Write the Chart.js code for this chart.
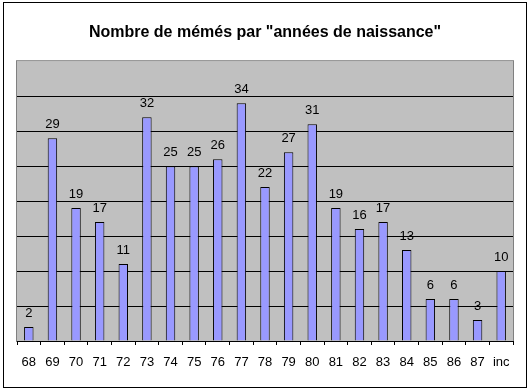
<!DOCTYPE html>
<html>
<head>
<meta charset="utf-8">
<script src="https://cdn.jsdelivr.net/npm/chart.js@4"></script>
<style>
  html, body { margin: 0; padding: 0; background: #fff; }
  #wrap { width: 530px; height: 390px; }
</style>
</head>
<body>
<div id="wrap"><canvas id="myChart"></canvas></div>
<script>
var annees = ["68", "69", "70", "71", "72", "73", "74", "75", "76", "77", "78", "79", "80", "81", "82", "83", "84", "85", "86", "87", "inc"];
var memes = [2, 29, 19, 17, 11, 32, 25, 25, 26, 34, 22, 27, 31, 19, 16, 17, 13, 6, 6, 3, 10];
var yMax = 40;
var yStep = 5;

var police = "'Liberation Sans', Arial, sans-serif";

// fond gris + cadre de la zone de tracé, cadre du graphique
var cadres = {
  id: "cadres",
  beforeDraw: function(chart) {
    var ctx = chart.ctx, a = chart.chartArea;
    ctx.save();
    ctx.fillStyle = "#fff";
    ctx.fillRect(0, 0, chart.width, chart.height);
    ctx.fillStyle = "#c0c0c0";
    ctx.fillRect(a.left, a.top, a.right - a.left, a.bottom - a.top);
    ctx.strokeStyle = "#808080";
    ctx.lineWidth = 1;
    ctx.strokeRect(a.left - 0.5, a.top - 0.5, a.right - a.left + 1, a.bottom - a.top + 1);
    ctx.restore();
  },
  afterDraw: function(chart) {
    var ctx = chart.ctx;
    ctx.save();
    ctx.strokeStyle = "#000";
    ctx.lineWidth = 1;
    ctx.strokeRect(3.5, 2.5, 523, 385);
    ctx.restore();
  }
};

// valeurs au-dessus des barres
var valeurs = {
  id: "valeurs",
  afterDatasetsDraw: function(chart) {
    var ctx = chart.ctx;
    var meta = chart.getDatasetMeta(0);
    ctx.save();
    ctx.font = "13px " + police;
    ctx.fillStyle = "#000";
    ctx.textAlign = "center";
    ctx.textBaseline = "alphabetic";
    meta.data.forEach(function(bar, i) {
      ctx.fillText(memes[i], bar.x, bar.y - 10);
    });
    ctx.restore();
  }
};

new Chart("myChart", {
  type: "bar",
  data: {
    labels: annees,
    datasets: [{
      data: memes,
      backgroundColor: "#9999ff",
      borderColor: "#000",
      borderWidth: 1,
      barPercentage: 0.4,
      categoryPercentage: 1
    }]
  },
  options: {
    responsive: true,
    maintainAspectRatio: false,
    animation: false,
    layout: { padding: { left: 17, right: 17, top: 0, bottom: 0 } },
    plugins: {
      legend: { display: false },
      tooltip: { enabled: false },
      title: {
        display: true,
        text: 'Nombre de mémés par "années de naissance"',
        color: "#000",
        font: { family: police, size: 16, weight: "bold" },
        padding: { top: 23, bottom: 19 }
      }
    },
    scales: {
      x: {
        grid: {
          offset: true,
          drawOnChartArea: false,
          color: "#000",
          tickLength: 4
        },
        border: { display: true, color: "#000", width: 1 },
        ticks: {
          color: "#000",
          font: { family: police, size: 13 },
          padding: 10,
          maxRotation: 0,
          autoSkip: false
        },
        afterFit: function(scale) { scale.height = 49; }
      },
      y: {
        min: 0,
        max: yMax,
        ticks: { display: false, stepSize: yStep },
        border: { display: false },
        grid: {
          drawTicks: false,
          color: function(c) {
            return (c.tick.value === 0 || c.tick.value === yMax) ? "rgba(0,0,0,0)" : "#000";
          }
        },
        afterFit: function(scale) { scale.width = 0; }
      }
    }
  },
  plugins: [cadres, valeurs]
});
</script>
</body>
</html>
